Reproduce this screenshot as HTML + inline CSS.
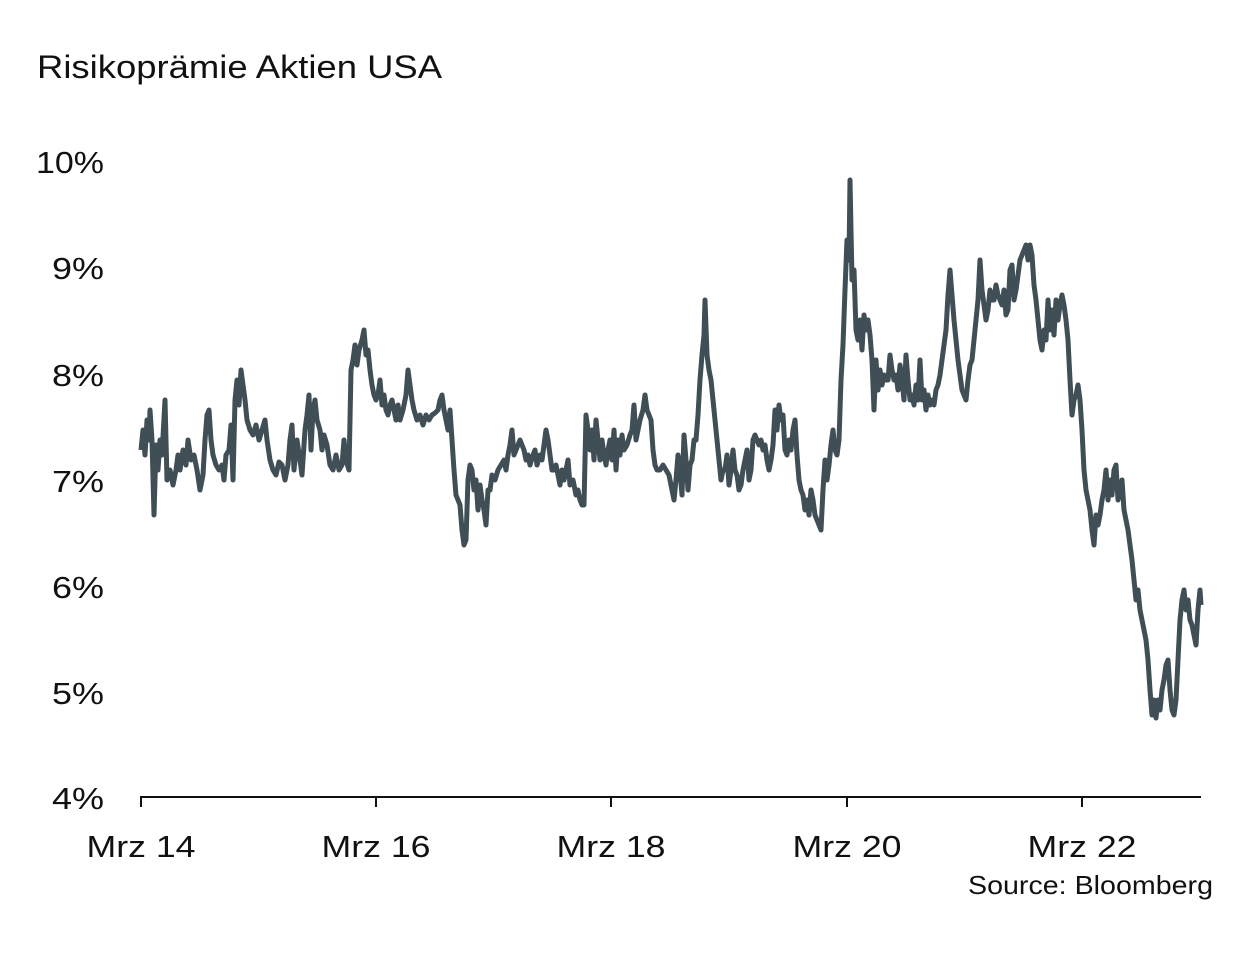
<!DOCTYPE html>
<html><head><meta charset="utf-8"><style>
body{margin:0;background:#fff;}
svg text{font-family:"Liberation Sans",sans-serif;fill:#111;}
</style></head><body>
<svg width="1249" height="949" viewBox="0 0 1249 949" xmlns="http://www.w3.org/2000/svg">
<rect width="1249" height="949" fill="#fff"/>
<text x="37" y="78" font-size="32" textLength="405" lengthAdjust="spacingAndGlyphs">Risikoprämie Aktien USA</text>
<g font-size="31" text-anchor="end">
<text x="104" y="173" textLength="68" lengthAdjust="spacingAndGlyphs">10%</text>
<text x="104" y="279" textLength="52" lengthAdjust="spacingAndGlyphs">9%</text>
<text x="104" y="386" textLength="52" lengthAdjust="spacingAndGlyphs">8%</text>
<text x="104" y="492" textLength="52" lengthAdjust="spacingAndGlyphs">7%</text>
<text x="104" y="598" textLength="52" lengthAdjust="spacingAndGlyphs">6%</text>
<text x="104" y="704" textLength="52" lengthAdjust="spacingAndGlyphs">5%</text>
<text x="104" y="809" textLength="52" lengthAdjust="spacingAndGlyphs">4%</text>
</g>
<g stroke="#111" stroke-width="2">
<line x1="140" y1="797" x2="1201" y2="797"/>
<line x1="141" y1="797" x2="141" y2="807"/>
<line x1="376" y1="797" x2="376" y2="807"/>
<line x1="611" y1="797" x2="611" y2="807"/>
<line x1="847" y1="797" x2="847" y2="807"/>
<line x1="1082" y1="797" x2="1082" y2="807"/>
</g>
<g font-size="31" text-anchor="middle">
<text x="141" y="857" textLength="109" lengthAdjust="spacingAndGlyphs">Mrz 14</text>
<text x="376" y="857" textLength="109" lengthAdjust="spacingAndGlyphs">Mrz 16</text>
<text x="611" y="857" textLength="109" lengthAdjust="spacingAndGlyphs">Mrz 18</text>
<text x="847" y="857" textLength="109" lengthAdjust="spacingAndGlyphs">Mrz 20</text>
<text x="1082" y="857" textLength="109" lengthAdjust="spacingAndGlyphs">Mrz 22</text>
</g>
<text x="1213" y="894" font-size="26" text-anchor="end" textLength="245" lengthAdjust="spacingAndGlyphs">Source: Bloomberg</text>
<polyline fill="none" stroke="#404e56" stroke-width="5" stroke-linejoin="round" points="141,450 143,430 145,455 147,420 149,440 150,410 152,440 154,515 156,445 158,470 160,440 162,455 165,400 167,480 170,470 173,485 176,470 178,455 180,470 183,450 186,465 188,440 191,460 194,455 197,470 200,490 203,475 205,440 207,415 209,410 211,440 213,455 216,465 219,470 222,465 224,480 226,455 229,450 231,425 233,480 235,400 237,380 239,405 241,370 243,385 245,400 247,420 250,430 253,435 256,425 259,440 262,430 265,420 267,440 270,460 273,470 276,475 279,462 282,465 285,480 288,465 290,440 292,425 294,470 297,440 300,460 302,475 305,430 307,415 309,395 311,450 313,410 315,400 317,420 320,430 322,450 324,435 327,445 330,465 333,470 336,455 339,470 342,465 344,440 346,460 349,470 351,370 353,360 355,345 357,365 359,350 362,340 364,330 366,355 368,350 370,370 372,385 374,395 376,400 378,395 380,380 382,405 384,395 386,410 388,415 390,405 392,400 394,410 396,420 398,405 400,420 403,410 406,395 408,370 410,385 412,400 414,410 417,420 420,415 423,425 426,415 429,420 432,415 435,413 438,410 440,400 442,395 444,410 446,420 448,430 450,410 452,440 454,470 456,495 458,500 460,505 462,530 464,545 466,540 468,480 470,465 472,470 474,490 476,480 478,510 480,485 482,500 484,510 486,525 488,490 490,490 492,475 495,480 498,470 501,465 504,460 506,470 508,455 510,445 512,430 514,455 516,450 518,445 520,440 522,445 524,450 526,460 528,455 530,465 533,455 535,450 537,465 540,455 542,460 544,445 546,430 548,440 550,455 552,470 554,470 556,465 558,475 560,485 562,470 564,480 566,470 568,460 570,485 573,480 576,495 578,490 580,500 582,505 584,505 586,415 588,430 590,450 592,430 594,460 596,420 598,440 600,460 602,440 604,455 606,465 608,450 610,440 612,460 614,430 616,470 618,440 620,455 622,435 624,450 627,445 630,435 632,430 634,405 636,440 638,430 640,420 643,410 645,395 647,410 649,415 651,420 653,450 655,465 657,470 660,470 663,465 666,470 669,475 672,490 674,500 676,480 678,455 680,470 682,495 684,435 686,460 688,490 690,465 692,460 694,440 696,440 698,415 700,380 702,355 704,335 705,300 707,355 709,370 711,380 713,400 715,420 717,440 719,460 721,480 723,470 725,470 727,455 729,485 731,470 733,450 735,470 737,475 739,490 741,485 743,470 745,460 747,450 749,480 751,470 753,440 755,435 757,440 759,445 761,440 763,450 765,445 767,460 769,470 771,460 773,445 775,410 777,430 779,405 781,420 783,415 785,450 787,455 789,440 791,450 793,430 795,420 797,455 799,480 801,490 803,495 805,510 807,500 809,515 811,490 813,500 815,515 817,520 819,525 821,530 823,490 825,460 827,480 829,465 831,445 833,430 835,450 837,455 839,440 841,380 843,345 845,290 847,240 849,260 850,180 852,280 854,270 856,330 858,340 860,320 862,350 864,315 866,330 868,320 870,335 872,360 874,410 876,360 878,390 880,370 882,385 884,375 886,380 888,380 890,355 892,370 894,380 896,375 898,390 900,365 902,380 904,400 906,355 908,380 910,400 912,395 914,405 916,385 918,400 920,360 922,400 924,390 926,410 928,395 930,405 932,400 934,405 936,390 938,385 940,375 942,360 944,345 946,330 948,295 950,270 952,295 954,320 956,340 958,360 960,375 962,390 964,395 966,400 968,380 970,365 972,360 974,340 976,320 978,300 980,260 982,290 984,305 986,320 988,310 990,290 992,300 994,300 996,285 998,295 1000,300 1002,305 1004,290 1006,315 1008,310 1010,270 1012,265 1014,300 1016,290 1018,275 1020,260 1022,255 1024,250 1026,245 1028,260 1030,245 1032,255 1034,285 1036,300 1038,320 1040,340 1042,350 1044,330 1046,340 1048,300 1050,330 1052,310 1054,335 1056,300 1058,320 1060,305 1062,295 1064,305 1066,320 1068,340 1070,380 1072,415 1074,400 1076,395 1078,385 1080,400 1082,430 1084,470 1086,490 1088,500 1090,510 1092,530 1094,545 1096,515 1098,525 1100,515 1102,500 1104,490 1106,470 1108,500 1110,480 1112,495 1114,470 1116,465 1118,500 1120,490 1122,480 1124,510 1126,520 1128,530 1130,545 1132,560 1134,580 1136,600 1138,590 1140,610 1142,620 1144,630 1146,640 1148,660 1150,690 1152,715 1154,700 1156,718 1158,700 1160,710 1162,690 1164,680 1166,665 1168,660 1170,690 1172,710 1174,715 1176,700 1178,660 1180,620 1182,600 1184,590 1186,610 1188,600 1190,620 1192,625 1194,635 1196,645 1198,610 1200,590 1201,605"/>
</svg>
</body></html>
